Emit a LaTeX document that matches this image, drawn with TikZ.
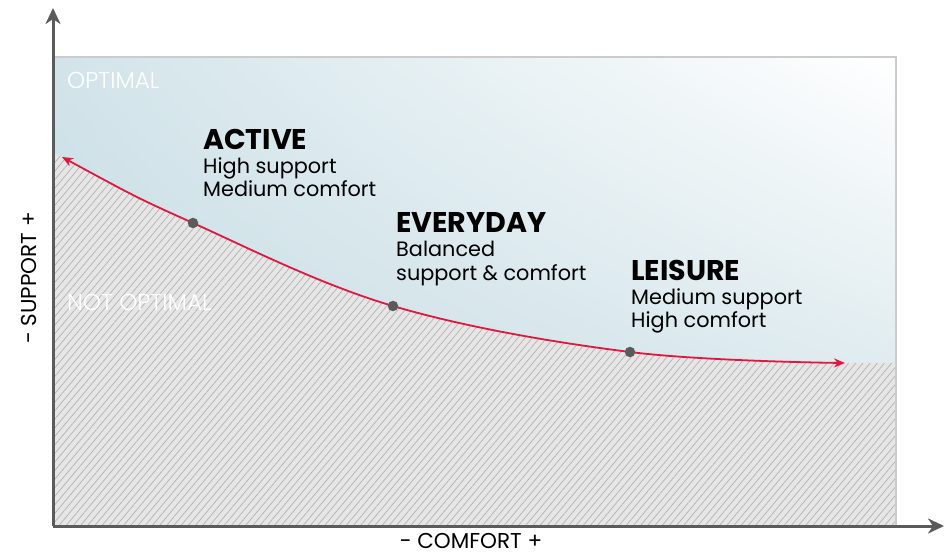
\documentclass[tikz,border=0pt]{standalone}
\usepackage{fontspec}
\setmainfont{Poppins}
\newfontfamily\lightfont{Poppins Light}
\usetikzlibrary{positioning, arrows.meta, patterns.meta, shadings}

\definecolor{axisgray}{HTML}{5B5B5B}
\definecolor{boxgray}{HTML}{CCCCCC}
\definecolor{curvered}{HTML}{E0173F}
\definecolor{hatchbg}{HTML}{E6E6E6}
\definecolor{hatchline}{HTML}{B2B2B2}
\definecolor{blueLL}{HTML}{C2D9E1}
\definecolor{blueUL}{HTML}{D2E4EA}
\definecolor{blueLR}{HTML}{D0E2E8}

\begin{document}
\begin{tikzpicture}[
x=1pt, y=-1pt,
headnode/.style={inner sep=0pt, anchor=base west, font=\fontsize{28.5}{29}\selectfont\bfseries},
bodynode/.style={inner sep=0pt, anchor=base west, font=\fontsize{20.8}{21}\selectfont},
zonenode/.style={inner sep=0pt, anchor=base west, text=white, font=\fontsize{23}{23}\lightfont},
axisnode/.style={inner sep=0pt, anchor=base, font=\fontsize{21.5}{22}\selectfont},
dotnode/.style={circle, fill=axisgray, inner sep=0pt, minimum size=10.5pt},
axisline/.style={draw=axisgray, line width=3pt, -{Stealth[length=16pt, width=15pt, inset=5pt]}},
curveline/.style={draw=curvered, line width=1.8pt, {Stealth[length=11pt, width=9pt]}-{Stealth[length=11pt, width=9pt]}},
]
\useasboundingbox (0,0) rectangle (950,553);

%Zones
\shade[lower left=blueLL, upper left=blueUL, lower right=blueLR, upper right=white] (54,526) rectangle (896,57);
\fill[hatchbg] (54,153) -- plot[smooth, tension=0.6] coordinates {(62,157) (193,223) (393,306) (630,352) (845,363)} -- (896,363) -- (896,526) -- (54,526) -- cycle;
\fill[pattern={Lines[angle=50, distance=5.5pt, line width=0.7pt]}, pattern color=hatchline] (54,153) -- plot[smooth, tension=0.6] coordinates {(62,157) (193,223) (393,306) (630,352) (845,363)} -- (896,363) -- (896,526) -- (54,526) -- cycle;
\draw[boxgray, line width=1.5pt] (54,57) -- (896,57) -- (896,526);

%Axes
\coordinate (origin) at (53,526);
\coordinate (ytop) at (53,8);
\coordinate (xend) at (944,526);
\draw[axisline] (origin) -- (ytop);
\draw[axisline] (origin) -- (xend);
\node[axisnode, rotate=90] (supportlabel) at (36,278) {- SUPPORT +};
\node[axisnode] (comfortlabel) at (471,548) {- COMFORT +};

\node[zonenode] (optimal) at (67,89) {OPTIMAL};
\node[zonenode] (notoptimal) at (67,310) {NOT OPTIMAL};

%Curve
\coordinate (curvestart) at (62,157);
\coordinate (activept) at (193,223);
\coordinate (everydaypt) at (393,306);
\coordinate (leisurept) at (630,352);
\coordinate (curveend) at (845,363);
\draw[curveline] plot[smooth, tension=0.6] coordinates {(curvestart) (activept) (everydaypt) (leisurept) (curveend)};
\node[dotnode] (activedot) at (activept) {};
\node[dotnode] (everydaydot) at (everydaypt) {};
\node[dotnode] (leisuredot) at (leisurept) {};

%Labels
\node[headnode] (active) at (203,150) {ACTIVE};
\node[bodynode] (active1) [below=24pt of active.base west, anchor=base west] {High support};
\node[bodynode] (active2) [below=23pt of active1.base west, anchor=base west] {Medium comfort};

\node[headnode] (everyday) at (396,233) {EVERYDAY};
\node[bodynode] (everyday1) [below=24pt of everyday.base west, anchor=base west] {Balanced};
\node[bodynode] (everyday2) [below=23pt of everyday1.base west, anchor=base west] {support \& comfort};

\node[headnode] (leisure) at (631,280) {LEISURE};
\node[bodynode] (leisure1) [below=24pt of leisure.base west, anchor=base west] {Medium support};
\node[bodynode] (leisure2) [below=23pt of leisure1.base west, anchor=base west] {High comfort};
\end{tikzpicture}
\end{document}
